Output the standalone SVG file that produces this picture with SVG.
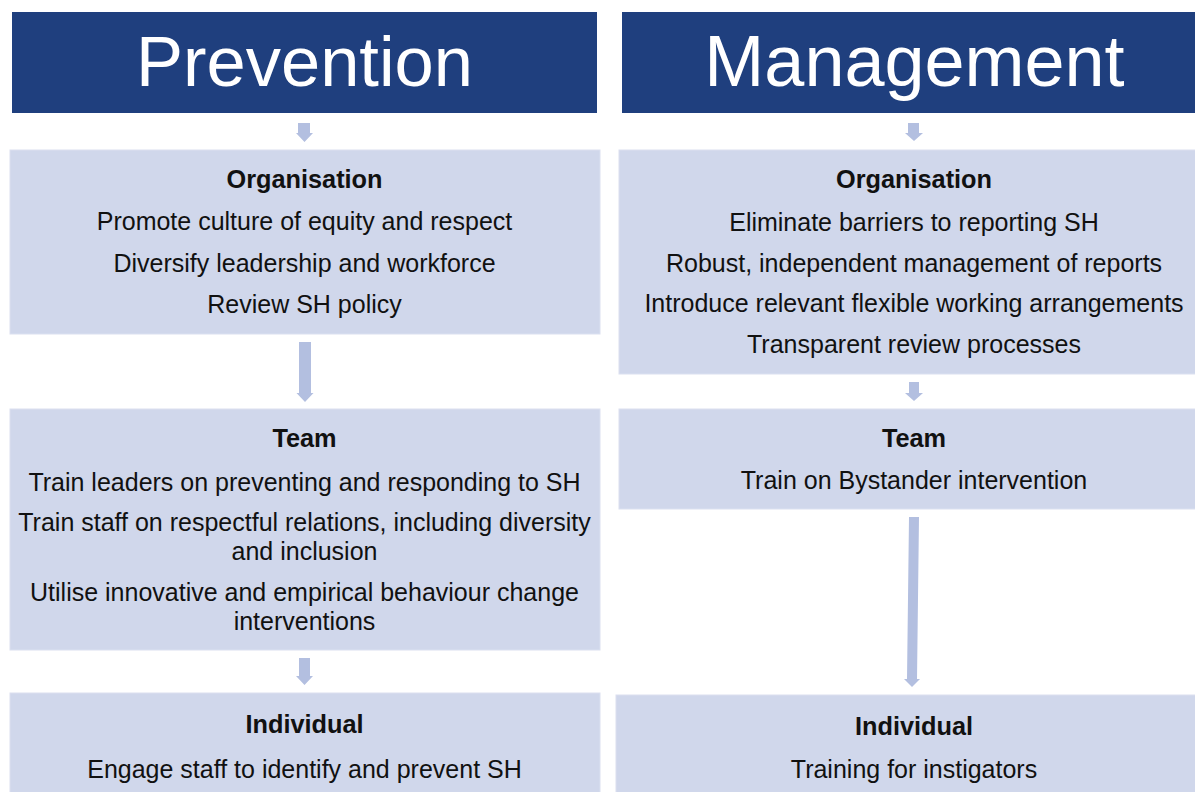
<svg xmlns="http://www.w3.org/2000/svg" width="1195" height="792" viewBox="0 0 1195 792">
<style>
.hdr{fill:#1f3f7e}
.box{fill:#d0d7eb;stroke:#dbe0f0;stroke-width:1}
.arr{fill:#b3bfe0}
text{font-family:"Liberation Sans",Arial,sans-serif;fill:#111;text-anchor:middle}
.ht{font-size:70.5px;fill:#ffffff}
.ht2{font-size:72px;fill:#ffffff}
.tt{font-size:25.3px;font-weight:bold}
.bt{font-size:25px}
</style>
<rect width="1195" height="792" fill="#ffffff"/>
<g id="prevention">
<rect class="hdr" x="12" y="12" width="585" height="101"/>
<text class="ht" x="304.5" y="86">Prevention</text>
</g>
<g id="management">
<rect class="hdr" x="622" y="12" width="580" height="101"/>
<text class="ht2" x="914.5" y="86">Management</text>
</g>
<g id="prev-organisation">
<rect class="box" x="10" y="150" width="590" height="184"/>
<text class="tt" x="304.5" y="188">Organisation</text>
<text class="bt" x="304.5" y="230">Promote culture of equity and respect</text>
<text class="bt" x="304.5" y="272">Diversify leadership and workforce</text>
<text class="bt" x="304.5" y="313">Review SH policy</text>
</g>
<g id="prev-team">
<rect class="box" x="10" y="409" width="590" height="241"/>
<text class="tt" x="304.5" y="447">Team</text>
<text class="bt" x="304.5" y="491">Train leaders on preventing and responding to SH</text>
<text class="bt" x="304.5" y="531">Train staff on respectful relations, including diversity</text>
<text class="bt" x="304.5" y="560">and inclusion</text>
<text class="bt" x="304.5" y="601">Utilise innovative and empirical behaviour change</text>
<text class="bt" x="304.5" y="630">interventions</text>
</g>
<g id="prev-individual">
<rect class="box" x="10" y="693" width="590" height="110"/>
<text class="tt" x="304.5" y="733">Individual</text>
<text class="bt" x="304.5" y="778">Engage staff to identify and prevent SH</text>
</g>
<g id="man-organisation">
<rect class="box" x="619" y="150" width="590" height="224"/>
<text class="tt" x="914" y="188">Organisation</text>
<text class="bt" x="914" y="231">Eliminate barriers to reporting SH</text>
<text class="bt" x="914" y="272">Robust, independent management of reports</text>
<text class="bt" x="914" y="312">Introduce relevant flexible working arrangements</text>
<text class="bt" x="914" y="353">Transparent review processes</text>
</g>
<g id="man-team">
<rect class="box" x="619" y="409" width="590" height="100"/>
<text class="tt" x="914" y="447">Team</text>
<text class="bt" x="914" y="489">Train on Bystander intervention</text>
</g>
<g id="man-individual">
<rect class="box" x="616" y="695" width="590" height="110"/>
<text class="tt" x="914" y="735">Individual</text>
<text class="bt" x="914" y="778">Training for instigators</text>
</g>
<g id="connectors">
<polygon class="arr" points="298,123 310,123 310,133 313,133 304.5,142 296,133 298,133"/>
<polygon class="arr" points="299,342 311,342 311,393 313.5,393 305,402 296.5,393 299,393"/>
<polygon class="arr" points="299,658 310,658 310,676 313,676 304.5,685 296,676 299,676"/>
<polygon class="arr" points="908,123 919,123 919,133 923,133 914,141 905,133 908,133"/>
<polygon class="arr" points="909,382 919,382 919,393 923,393 914,401 905,393 909,393"/>
<polygon class="arr" points="909,517 919,517 917,679 920,679 912,687 904,679 907,679"/>
</g>
</svg>
